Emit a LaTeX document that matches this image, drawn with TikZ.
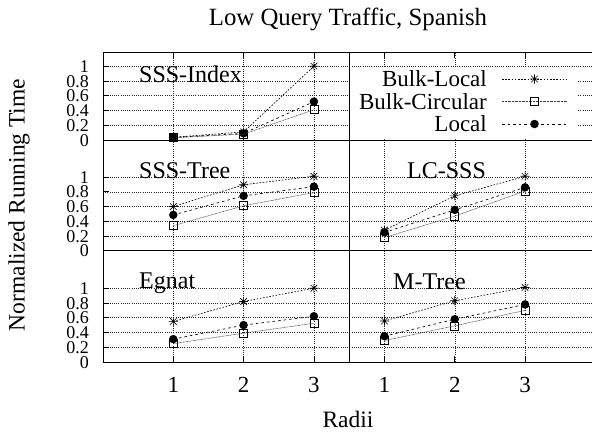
\documentclass[tikz,border=0pt]{standalone}
\usepackage{fontspec}
\setmainfont{Liberation Serif}
\begin{document}
\begin{tikzpicture}[x=1pt,y=-1pt,
  gridline/.style={line width=0.5pt, dash pattern=on 1pt off 1.2pt, black!85},
  frameline/.style={line width=0.9pt, black},
  tickmark/.style={line width=0.7pt, black},
  ylab/.style={anchor=east, inner sep=0pt, text height=12.2pt, text depth=0pt, font=\fontsize{18}{18}\selectfont},
  xlab/.style={inner sep=0pt, font=\fontsize{23}{23}\selectfont},
  paneltitle/.style={anchor=base west, inner sep=0pt, font=\fontsize{24}{24}\selectfont},
  legtext/.style={anchor=east, inner sep=0pt, font=\fontsize{23}{23}\selectfont},
  mstar/.style={circle, inner sep=0pt, minimum size=10pt,
    path picture={\draw[line width=0.6pt, shift={(path picture bounding box.center)}, x=1pt, y=1pt]
      (-4.6,0)--(4.6,0) (0,-4.6)--(0,4.6) (-3.3,-3.3)--(3.3,3.3) (-3.3,3.3)--(3.3,-3.3);}},
  msq/.style={rectangle, draw, line width=0.6pt, minimum size=8pt, inner sep=0pt},
  mdot/.style={circle, fill, minimum size=8.5pt, inner sep=0pt},
  blline/.style={line width=0.65pt, dash pattern=on 1.6pt off 1.6pt},
  bcline/.style={line width=0.55pt, dash pattern=on 0.8pt off 0.6pt, black!75},
  loline/.style={line width=0.65pt, dash pattern=on 2.6pt off 3pt},
]
\useasboundingbox (0,0) rectangle (592,437);

% ---------- grids ----------
\foreach \z/\top in {140/1.192, 250.8/1.508, 362/1.508}{
  % left column, x from 0 to 3.5
  \begin{scope}[shift={(103,\z)}, x=70.3pt, y=73.8pt]
    \foreach \v in {0.2,0.4,0.6,0.8,1}
      \draw[gridline] (0,\v) -- (3.5,\v);
    \foreach \u in {1,2,3}
      \draw[gridline] (\u,0) -- (\u,\top);
  \end{scope}
  % right column, x from 0.5 onwards
  \begin{scope}[shift={(314.15,\z)}, x=70.3pt, y=73.8pt]
    \foreach \v in {0.2,0.4,0.6,0.8,1}
      \draw[gridline] (0.5,\v) -- (3.952,\v);
    \foreach \u in {1,2,3}
      \draw[gridline] (\u,0) -- (\u,\top);
  \end{scope}
}

% opaque key area
\fill[white] (351,68.5) rectangle (577,138.8);

% ---------- frame, separators, ticks ----------
\draw[frameline] (592,52) -- (103,52) -- (103,362) -- (592,362);
\draw[frameline] (103,140) -- (592,140);
\draw[frameline] (103,250.8) -- (592,250.8);
\draw[frameline] (349.3,52) -- (349.3,362);

\foreach \z in {140,250.8,362}{
  \foreach \v/\t in {0/0,0.2/0.2,0.4/0.4,0.6/0.6,0.8/0.8,1/1}{
    \draw[tickmark] (103,{\z-73.8*\v}) -- (109,{\z-73.8*\v});
    \node[ylab] at (89,{\z-73.8*\v}) {\t};
  }
}
\foreach \px in {173.3,243.6,313.9,384.45,454.75,525.05}{
  \draw[tickmark] (\px,52) -- (\px,58);
  \draw[tickmark] (\px,362) -- (\px,356);
}

% ---------- data ----------
% SSS-Index
\begin{scope}[shift={(103,140)}, x=70.3pt, y=73.8pt]
  \node[msq] (ic1) at (1,0.03) {};  \node[msq] (ic2) at (2,0.08) {};  \node[msq] (ic3) at (3,0.41) {};
  \node[mdot] (io1) at (1,0.035) {}; \node[mdot] (io2) at (2,0.09) {}; \node[mdot] (io3) at (3,0.52) {};
  \node[mstar] (ib1) at (1,0.036) {}; \node[mstar] (ib2) at (2,0.11) {}; \node[mstar] (ib3) at (3,1.0) {};
  \draw[bcline] (ic1.center) -- (ic2.center) -- (ic3.center);
  \draw[loline] (io1.center) -- (io2.center) -- (io3.center);
  \draw[blline] (ib1.center) -- (ib2.center) -- (ib3.center);
\end{scope}
% SSS-Tree
\begin{scope}[shift={(103,250.8)}, x=70.3pt, y=73.8pt]
  \node[msq] (tc1) at (1,0.34) {};  \node[msq] (tc2) at (2,0.61) {};  \node[msq] (tc3) at (3,0.79) {};
  \node[mdot] (to1) at (1,0.486) {}; \node[mdot] (to2) at (2,0.745) {}; \node[mdot] (to3) at (3,0.87) {};
  \node[mstar] (tb1) at (1,0.60) {}; \node[mstar] (tb2) at (2,0.895) {}; \node[mstar] (tb3) at (3,1.01) {};
  \draw[bcline] (tc1.center) -- (tc2.center) -- (tc3.center);
  \draw[loline] (to1.center) -- (to2.center) -- (to3.center);
  \draw[blline] (tb1.center) -- (tb2.center) -- (tb3.center);
\end{scope}
% LC-SSS
\begin{scope}[shift={(314.15,250.8)}, x=70.3pt, y=73.8pt]
  \node[msq] (lc1) at (1,0.18) {};  \node[msq] (lc2) at (2,0.47) {};  \node[msq] (lc3) at (3,0.81) {};
  \node[mdot] (lo1) at (1,0.25) {}; \node[mdot] (lo2) at (2,0.555) {}; \node[mdot] (lo3) at (3,0.86) {};
  \node[mstar] (lb1) at (1,0.28) {}; \node[mstar] (lb2) at (2,0.745) {}; \node[mstar] (lb3) at (3,1.01) {};
  \draw[bcline] (lc1.center) -- (lc2.center) -- (lc3.center);
  \draw[loline] (lo1.center) -- (lo2.center) -- (lo3.center);
  \draw[blline] (lb1.center) -- (lb2.center) -- (lb3.center);
\end{scope}
% Egnat
\begin{scope}[shift={(103,362)}, x=70.3pt, y=73.8pt]
  \node[msq] (ec1) at (1,0.25) {};  \node[msq] (ec2) at (2,0.39) {};  \node[msq] (ec3) at (3,0.525) {};
  \node[mdot] (eo1) at (1,0.31) {}; \node[mdot] (eo2) at (2,0.50) {}; \node[mdot] (eo3) at (3,0.62) {};
  \node[mstar] (eb1) at (1,0.55) {}; \node[mstar] (eb2) at (2,0.82) {}; \node[mstar] (eb3) at (3,1.0) {};
  \draw[bcline] (ec1.center) -- (ec2.center) -- (ec3.center);
  \draw[loline] (eo1.center) -- (eo2.center) -- (eo3.center);
  \draw[blline] (eb1.center) -- (eb2.center) -- (eb3.center);
\end{scope}
% M-Tree
\begin{scope}[shift={(314.15,362)}, x=70.3pt, y=73.8pt]
  \node[msq] (mc1) at (1,0.29) {};  \node[msq] (mc2) at (2,0.49) {};  \node[msq] (mc3) at (3,0.70) {};
  \node[mdot] (mo1) at (1,0.35) {}; \node[mdot] (mo2) at (2,0.58) {}; \node[mdot] (mo3) at (3,0.78) {};
  \node[mstar] (mb1) at (1,0.556) {}; \node[mstar] (mb2) at (2,0.83) {}; \node[mstar] (mb3) at (3,1.01) {};
  \draw[bcline] (mc1.center) -- (mc2.center) -- (mc3.center);
  \draw[loline] (mo1.center) -- (mo2.center) -- (mo3.center);
  \draw[blline] (mb1.center) -- (mb2.center) -- (mb3.center);
\end{scope}

% ---------- panel names ----------
\node[paneltitle] at (139,82) {SSS-Index};
\node[paneltitle] at (139,178) {SSS-Tree};
\node[paneltitle] at (407,178) {LC-SSS};
\node[paneltitle] at (139,288) {Egnat};
\node[paneltitle] at (393,289) {M-Tree};

% ---------- key ----------
\node[legtext] (k1) at (487,79) {Bulk-Local};
\node[legtext] (k2) at (487,101.5) {Bulk-Circular};
\node[legtext] (k3) at (487,124) {Local};
\coordinate (k1a) at (502,79);    \coordinate (k1b) at (567,79);
\coordinate (k2a) at (502,101.5); \coordinate (k2b) at (567,101.5);
\coordinate (k3a) at (502,124);   \coordinate (k3b) at (567,124);
\draw[blline] (k1a) -- (k1b);
\draw[bcline] (k2a) -- (k2b);
\draw[loline] (k3a) -- (k3b);
\node[mstar] (km1) at (534.5,79) {};
\node[msq] (km2) at (534.5,101.5) {};
\node[mdot] (km3) at (534.5,124) {};

% ---------- axes labels ----------
\foreach \px/\t in {173.3/1,243.6/2,313.9/3,384.45/1,454.75/2,525.05/3}
  \node[xlab] at (\px,385) {\t};
\node[anchor=base, inner sep=0pt, font=\fontsize{24.8}{24.8}\selectfont] (ttl) at (348,25.7) {Low Query Traffic, Spanish};
\node[rotate=90, inner sep=0pt, font=\fontsize{23.5}{23.5}\selectfont] (yttl) at (19,205) {Normalized Running Time};
\node[inner sep=0pt, font=\fontsize{23.5}{23.5}\selectfont] (xttl) at (348,419) {Radii};
\end{tikzpicture}
\end{document}
